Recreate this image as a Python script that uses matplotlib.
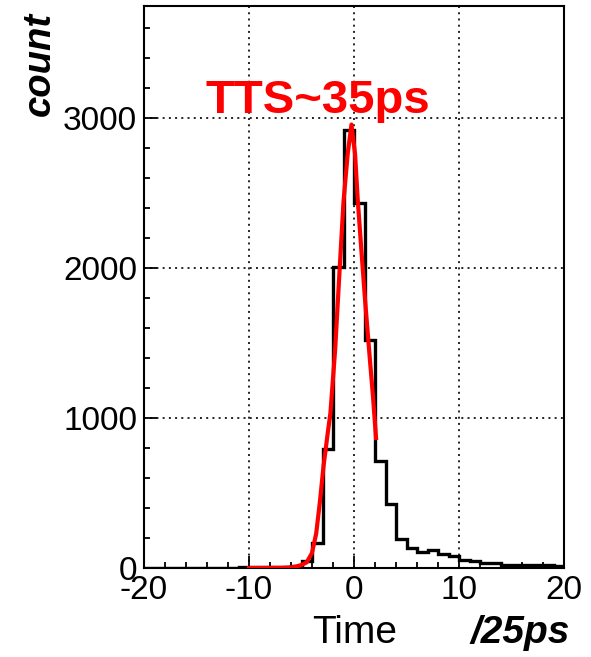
import matplotlib
matplotlib.use('Agg')
import matplotlib.pyplot as plt
import numpy as np
from matplotlib.ticker import MultipleLocator

plt.rcParams['font.family'] = ['Liberation Sans', 'DejaVu Sans']
plt.rcParams['axes.unicode_minus'] = False

# histogram: bin edges (1 unit = 25 ps) and counts
bin_edges = np.arange(-20, 21, 1)
counts = [2, 2, 2, 2, 2, 3, 3, 3, 3, 4,          # -20 .. -11
          4, 5, 6, 8, 15, 45,                     # -10 .. -5
          165, 795, 2005, 2920, 2432, 1522, 713,  # -4 .. 2
          425, 195, 130, 105, 118, 95, 80,        # 3 .. 9
          52, 48, 33, 30, 20, 19, 18, 17, 17, 16] # 10 .. 19

# red fit curve
fit_x = [-10, -7.0, -6.0, -5.5, -5.0, -4.5, -4.0, -3.6, -3.25, -2.9, -2.5, -2.25,
         -1.8, -1.36, -1.0, -0.6, -0.24, 0.1, 0.35, 0.7, 1.05, 1.5, 1.8, 2.1]
fit_y = [0, 1, 4, 10, 20, 38, 100, 230, 440, 680, 900, 1030,
         1450, 2000, 2440, 2760, 2955, 2760, 2460, 2120, 1789, 1400, 1150, 866]

fig = plt.figure(figsize=(5.91, 6.57), dpi=100)
ax = fig.add_axes([144 / 591, 1 - 568 / 657, 420 / 591, 562 / 657])

ax.stairs(counts, bin_edges, color='black', lw=2.4, zorder=3)
ax.plot(fit_x, fit_y, color='red', lw=3.0, zorder=4)

ax.set_xlim(-20, 20)
ax.set_ylim(0, 3745)
ax.xaxis.set_major_locator(MultipleLocator(10))
ax.xaxis.set_minor_locator(MultipleLocator(2))
ax.yaxis.set_major_locator(MultipleLocator(1000))
ax.yaxis.set_minor_locator(MultipleLocator(200))
ax.tick_params(which='major', direction='in', length=9, width=1.3, labelsize=24, pad=5)
ax.tick_params(which='minor', direction='in', length=4.5, width=1.3)
ax.grid(True, which='major', color='#222222', lw=1.4, linestyle=(0, (1, 2.2)), zorder=1)
for s in ax.spines.values():
    s.set_linewidth(1.5)

ax.text(-3.46, 3035, 'TTS~35ps', color='red', fontsize=34, weight='bold',
        ha='center', va='baseline', zorder=5)

fig.text(40 / 591, 1 - 12 / 657, 'count', rotation=90, fontsize=27.5,
         weight='bold', style='italic', ha='center', va='top')
fig.text(355 / 591, 1 - 643 / 657, 'Time', fontsize=28, ha='center', va='baseline')
fig.text(570 / 591, 1 - 643 / 657, '/25ps', fontsize=28, weight='bold',
         style='italic', ha='right', va='baseline')

fig.savefig('out.png', dpi=100)
